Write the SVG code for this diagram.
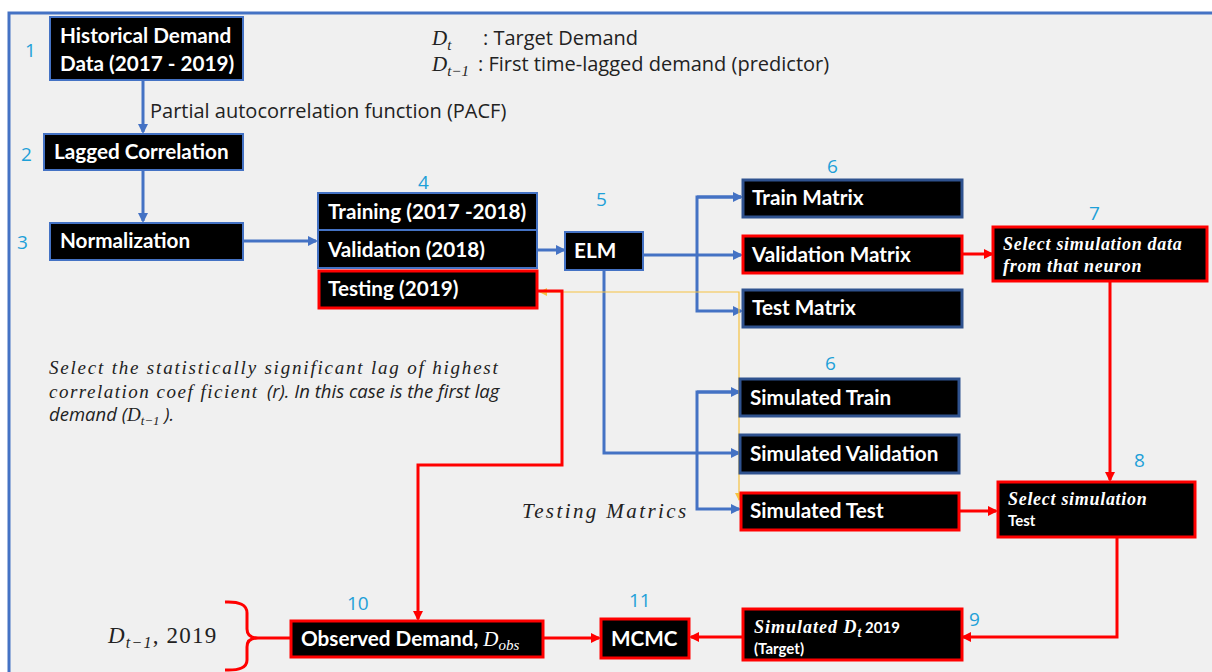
<svg xmlns="http://www.w3.org/2000/svg" width="1212" height="672" viewBox="0 0 1212 672">
<defs>
<style>
.bg{fill:#f0f0f0}
.nb{fill:#000;stroke:#4472c4;stroke-width:2}
.nd{fill:#000;stroke:#2f528f;stroke-width:3}
.nr{fill:#000;stroke:#ff0000;stroke-width:3}
.t{font-family:Lato,"Open Sans",sans-serif;font-weight:bold;font-size:20.7px;fill:#fff}
.ts{font-family:Lato,"Open Sans",sans-serif;font-weight:bold;font-size:15px;fill:#fff}
.ti{font-family:"Liberation Serif",serif;font-style:italic;font-weight:bold;font-size:18px;fill:#fff}
.num{font-family:"Open Sans",sans-serif;font-size:19px;fill:#1ea0d8}
.lbl{font-family:"Open Sans",sans-serif;font-size:20px;fill:#222}
.m{font-family:"Liberation Serif",serif;font-style:italic;fill:#222}
.s{font-family:"Open Sans",sans-serif;font-style:italic;fill:#222}
.cb{fill:none;stroke:#4472c4;stroke-width:3}
.cr{fill:none;stroke:#ff0000;stroke-width:3}
.cy{fill:none;stroke:#f5c242;stroke-width:1.2}
</style>
<marker id="ab" markerWidth="10" markerHeight="10" refX="8" refY="5" orient="auto" markerUnits="userSpaceOnUse"><path d="M0,0 L10,5 L0,10 z" fill="#4472c4"/></marker>
<marker id="ar" markerWidth="10" markerHeight="10" refX="8" refY="5" orient="auto" markerUnits="userSpaceOnUse"><path d="M0,0 L10,5 L0,10 z" fill="#ff0000"/></marker>
<marker id="ay" markerWidth="8" markerHeight="8" refX="7" refY="4" orient="auto" markerUnits="userSpaceOnUse"><path d="M0,0 L8,4 L0,8 z" fill="#f5c242"/></marker>
<marker id="ays" markerWidth="8" markerHeight="8" refX="1" refY="4" orient="auto" markerUnits="userSpaceOnUse"><path d="M8,0 L0,4 L8,8 z" fill="#f5c242"/></marker>
</defs>
<rect x="0" y="0" width="1212" height="672" fill="#fff"/>
<rect x="9" y="13" width="1203" height="659" class="bg"/>
<path d="M9,672 L9,13 L1212,13" fill="none" stroke="#4472c4" stroke-width="3"/>

<g id="legend">
<text x="432" y="45" class="m" font-size="21">D<tspan font-size="15" dy="5">t</tspan></text>
<text x="483" y="45" class="lbl">: Target Demand</text>
<text x="432" y="71" class="m" font-size="21">D<tspan font-size="15" dy="5">t−1</tspan></text>
<text x="478" y="71" class="lbl">: First time-lagged demand (predictor)</text>
</g>

<g id="connectors">
<line x1="143" y1="80" x2="143" y2="132" class="cb" marker-end="url(#ab)"/>
<line x1="143" y1="170" x2="143" y2="221" class="cb" marker-end="url(#ab)"/>
<line x1="243" y1="241" x2="316" y2="241" class="cb" marker-end="url(#ab)"/>
<line x1="537" y1="250" x2="564" y2="250" class="cb" marker-end="url(#ab)"/>
<line x1="643" y1="255" x2="741" y2="255" class="cb" marker-end="url(#ab)"/>
<path d="M741,197 L697,197 L697,311 L741,311" class="cb" marker-end="url(#ab)"/>
<line x1="697" y1="197" x2="741" y2="197" class="cb" marker-end="url(#ab)"/>
<path d="M604,270 L604,453 L739,453" class="cb" marker-end="url(#ab)"/>
<path d="M739,392 L697,392 L697,509 L739,509" class="cb" marker-end="url(#ab)"/>
<line x1="697" y1="392" x2="739" y2="392" class="cb" marker-end="url(#ab)"/>
<path d="M739,500 L739,292 L540,292" class="cy" marker-end="url(#ay)" marker-start="url(#ays)"/>
<path d="M537,291 L562,291 L562,465 L418,465 L418,619" class="cr" marker-end="url(#ar)"/>
<line x1="962" y1="254" x2="992" y2="254" class="cr" marker-end="url(#ar)"/>
<line x1="1110" y1="281" x2="1110" y2="480" class="cr" marker-end="url(#ar)"/>
<line x1="959" y1="511" x2="996" y2="511" class="cr" marker-end="url(#ar)"/>
<path d="M1117,537 L1117,637 L963,637" class="cr" marker-end="url(#ar)"/>
<line x1="742" y1="637" x2="691" y2="637" class="cr" marker-end="url(#ar)"/>
<line x1="543" y1="638" x2="599" y2="638" class="cr" marker-end="url(#ar)"/>
<path d="M225,602 Q247,601 247,613 L247,629 Q247,638 258,638 L290,638 M258,638 Q247,638 247,647 L247,660 Q247,671 225,670" class="cr"/>
</g>

<g id="n1"><rect x="50" y="17" width="193" height="63" class="nb"/>
<text x="60" y="43" class="t">Historical Demand</text><text x="60" y="71" class="t">Data (2017 - 2019)</text>
<text x="25" y="57" class="num">1</text></g>
<text x="150" y="118" class="lbl">Partial autocorrelation function (PACF)</text>

<g id="n2"><rect x="44" y="134" width="199" height="36" class="nb"/>
<text x="54" y="159" class="t">Lagged Correlation</text><text x="21" y="161" class="num">2</text></g>

<g id="n3"><rect x="50" y="223" width="193" height="37" class="nb"/>
<text x="60" y="248" class="t">Normalization</text><text x="17" y="249" class="num">3</text></g>

<g id="n4">
<rect x="318" y="193" width="219" height="37" class="nb"/>
<text x="328" y="219" class="t">Training (2017 -2018)</text>
<rect x="318" y="230" width="219" height="38" class="nb"/>
<text x="328" y="257" class="t">Validation  (2018)</text>
<rect x="319" y="271" width="218" height="37" class="nr"/>
<text x="328" y="296" class="t">Testing (2019)</text>
<text x="418" y="189" class="num">4</text></g>

<g id="n5"><rect x="565" y="232" width="78" height="38" class="nb"/>
<text x="574" y="258" class="t">ELM</text><text x="596" y="206" class="num">5</text></g>

<g id="n6a">
<rect x="743" y="180" width="219" height="37" class="nd"/>
<text x="752" y="205" class="t">Train Matrix</text>
<rect x="743" y="236" width="219" height="37" class="nr"/>
<text x="752" y="262" class="t">Validation Matrix</text>
<rect x="743" y="290" width="219" height="37" class="nd"/>
<text x="752" y="315" class="t">Test Matrix</text>
<text x="827" y="173" class="num">6</text></g>

<g id="n7"><rect x="993" y="227" width="214" height="54" class="nr"/>
<text x="1003" y="250" class="ti" font-size="20" letter-spacing="0.7">Select simulation data</text>
<text x="1003" y="272" class="ti" font-size="20" letter-spacing="0.7">from that neuron</text>
<text x="1089" y="220" class="num">7</text></g>

<g id="n6b">
<rect x="740" y="379" width="219" height="37" class="nd"/>
<text x="750" y="405" class="t">Simulated Train</text>
<rect x="740" y="435" width="219" height="38" class="nd"/>
<text x="750" y="461" class="t">Simulated Validation</text>
<rect x="741" y="493" width="218" height="37" class="nr"/>
<text x="750" y="518" class="t">Simulated Test</text>
<text x="825" y="370" class="num">6</text></g>
<text x="522" y="518" class="m" font-size="21" letter-spacing="2.4">Testing Matrics</text>

<g id="n8"><rect x="998" y="482" width="197" height="55" class="nr"/>
<text x="1008" y="505" class="ti" font-size="20" letter-spacing="0.7">Select simulation</text>
<text x="1008" y="526" class="ts" font-size="15">Test</text>
<text x="1134" y="467" class="num">8</text></g>

<g id="n9"><rect x="743" y="609" width="219" height="51" class="nr"/>
<text x="754" y="633" class="ti" font-size="20" letter-spacing="1">Simulated D<tspan font-size="14" dy="4" letter-spacing="0">t</tspan><tspan dy="-4" class="ts" font-size="18" font-style="normal" letter-spacing="0"> 2019</tspan></text>
<text x="754" y="654" class="ts" font-size="15">(Target)</text>
<text x="969" y="626" class="num">9</text></g>

<g id="n11"><rect x="601" y="619" width="88" height="39" class="nr"/>
<text x="611" y="646" class="t">MCMC</text><text x="629" y="607" class="num">11</text></g>

<g id="n10"><rect x="291" y="621" width="252" height="36" class="nr"/>
<text x="301" y="646" class="t">Observed Demand, <tspan font-family="Liberation Serif,serif" font-style="italic" font-weight="normal" font-size="21">D</tspan><tspan font-family="Liberation Serif,serif" font-style="italic" font-weight="normal" font-size="15" dy="4">obs</tspan></text>
<text x="347" y="610" class="num">10</text></g>

<text x="108" y="643" class="m" font-size="23" letter-spacing="1.2">D<tspan font-size="16" dy="5">t−1</tspan><tspan dy="-5" font-style="normal">, 2019</tspan></text>

<g id="note">
<text x="49" y="374" class="m" font-size="19" letter-spacing="1.8">Select the statistically significant lag of highest</text>
<text x="49" y="398" class="m" font-size="19" letter-spacing="1.5">correlation coef ficient</text>
<text x="267" y="398" class="s" font-size="18.5">(r). In this case is the first lag</text>
<text x="49" y="421" class="s" font-size="18.5">demand (<tspan class="m" font-size="19">D</tspan><tspan class="m" font-size="13" dy="4">t−1</tspan><tspan dy="-4"> ).</tspan></text>
</g>
</svg>
